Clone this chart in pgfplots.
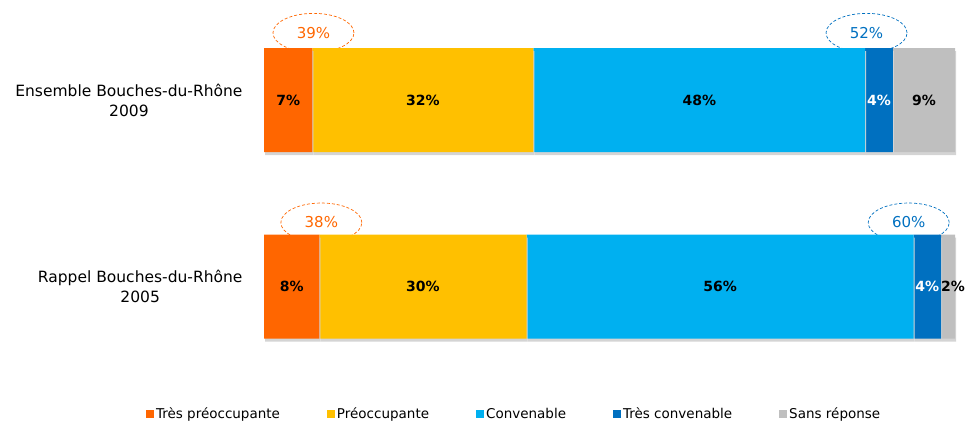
\documentclass[border=0pt]{standalone}
\usepackage{pgfplots}
\usepackage{pgfplotstable}
\pgfplotsset{compat=1.18}
\usepackage{fontspec}
\setmainfont{DejaVu Sans}
\usetikzlibrary{shapes.geometric}
\definecolor{corange}{HTML}{FF6600}
\definecolor{cyellow}{HTML}{FFC000}
\definecolor{ccyan}{HTML}{00B0F0}
\definecolor{cblue}{HTML}{0070C0}
\definecolor{cgray}{HTML}{BFBFBF}
\definecolor{cshadow}{HTML}{D4D4D4}

% y: 0 = 2005, 1 = 2009
\pgfplotstableread{
y  a  b  c  d  e
0  8  30 56 4  2
1  7  32 48 4  9
}\survey

\begin{document}
\begin{tikzpicture}[x=1pt,y=1pt]
\begin{axis}[
    at={(264pt,44.25pt)}, anchor=south west,
    xbar stacked, bar width=104pt,
    width=691pt, height=373pt, scale only axis,
    xmin=0, xmax=100, ymin=-0.5, ymax=1.5,
    clip=false,
    hide x axis,
    y axis line style={draw=none},
    ytick={0,1},
    yticklabels={{Rappel Bouches-du-Rhône\\2005},{Ensemble Bouches-du-Rhône\\2009}},
    major tick length=0pt,
    yticklabel style={align=center, font=\fontsize{15.5}{20}\selectfont, xshift=-18pt},
    /pgf/number format/assume math mode=true,
    shadowed/.style={draw=none, forget plot,
        preaction={fill=cshadow, transform canvas={shift={(1pt,-3pt)}}}},
    nodes near coords={\pgfmathprintnumber{\rawx}\%},
    every node near coord/.append style={anchor=center, font=\fontsize{14}{17}\bfseries},
    legend columns=5,
    legend style={draw=none, at={(0.362,-0.092)}, anchor=center,
        font=\fontsize{13.5}{16}\selectfont,
        /tikz/every even column/.append style={column sep=45pt}},
    legend image code/.code={\fill[#1] (0pt,-4pt) rectangle (8pt,4pt);},
]
\addplot[shadowed, fill=corange, visualization depends on=\thisrow{a}\as\rawx] table[x=a, y=y] {\survey};
\addplot[shadowed, fill=cyellow, visualization depends on=\thisrow{b}\as\rawx] table[x=b, y=y] {\survey};
\addplot[shadowed, fill=ccyan, visualization depends on=\thisrow{c}\as\rawx] table[x=c, y=y] {\survey};
\addplot[shadowed, fill=cblue, visualization depends on=\thisrow{d}\as\rawx,
    nodes near coords style={text=white}] table[x=d, y=y] {\survey};
\addplot[shadowed, fill=cgray, visualization depends on=\thisrow{e}\as\rawx,
    nodes near coords style={xshift={(\rawx<5)*5pt}}] table[x=e, y=y] {\survey};
\addlegendimage{draw=none, fill=corange}
\addlegendimage{draw=none, fill=cyellow}
\addlegendimage{draw=none, fill=ccyan}
\addlegendimage{draw=none, fill=cblue}
\addlegendimage{draw=none, fill=cgray}
\legend{Très préoccupante, Préoccupante, Convenable, Très convenable, Sans réponse}

\tikzset{oval/.style={ellipse, draw=#1, text=#1, dash pattern=on 3pt off 2pt,
    line width=0.7pt, minimum width=81pt, minimum height=39pt, inner sep=0pt,
    font=\fontsize{15}{18}\selectfont}}
\node[oval=corange] at (axis cs:7.16,1.36) {39\%};
\node[oval=cblue] at (axis cs:87.2,1.36) {52\%};
\node[oval=corange] at (axis cs:8.3,0.343) {38\%};
\node[oval=cblue] at (axis cs:93.3,0.343) {60\%};
\end{axis}
\pgfresetboundingbox
\path (0,0) rectangle (965,424);
\end{tikzpicture}
\end{document}
